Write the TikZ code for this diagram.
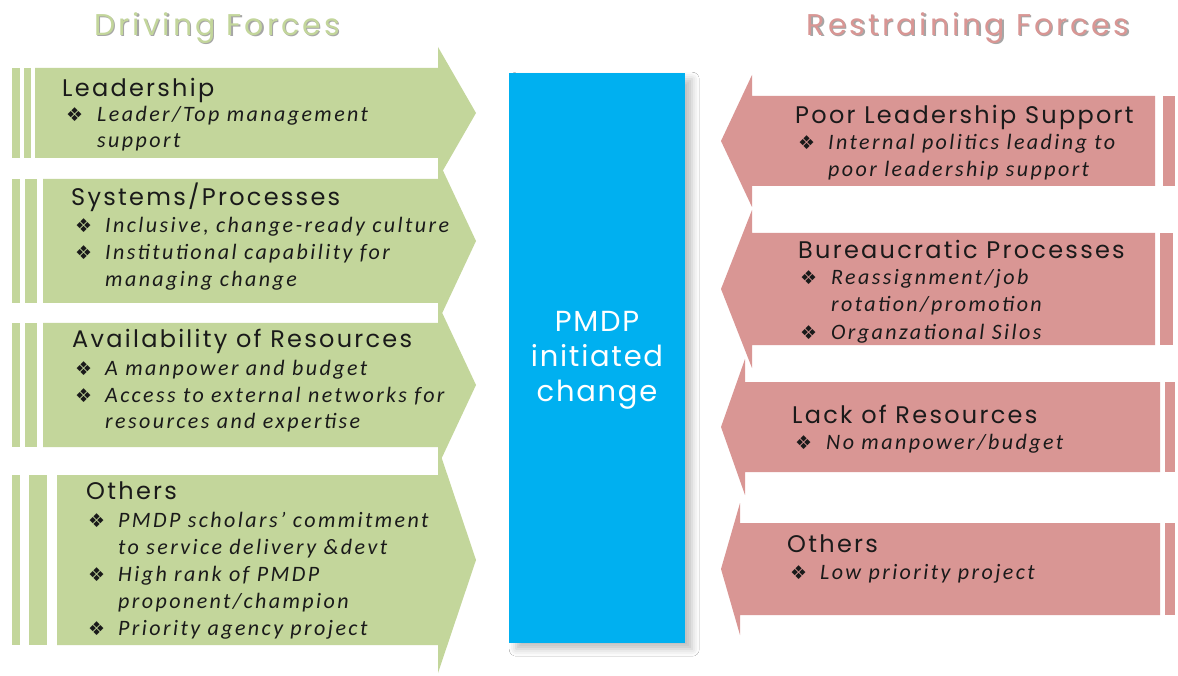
\documentclass[tikz,border=0pt]{standalone}
\usepackage{fontspec}
\setmainfont{Carlito}
\newfontfamily\gothic[LetterSpace=9.5]{Poppins}
\newfontfamily\gothicT[LetterSpace=10]{Poppins}
\newfontfamily\gothicB[LetterSpace=6]{Poppins}
\newfontfamily\symfont{DejaVu Sans}
\newfontfamily\itfont[LetterSpace=11]{Carlito}
\usetikzlibrary{shadows.blur}
\definecolor{grn}{HTML}{C3D69B}
\definecolor{grnT}{HTML}{C3D69B}
\definecolor{pnk}{HTML}{D99694}
\definecolor{blu}{HTML}{00B0F0}
\definecolor{txt}{HTML}{1A1A1A}
\tikzset{
  heading/.style={anchor=base west, inner sep=0, font=\gothic\fontsize{24}{24}\selectfont, text=txt},
  bul/.style={anchor=base west, inner sep=0, font=\symfont\fontsize{19}{19}\selectfont, text=txt},
  itm/.style={anchor=base west, inner sep=0, font=\itfont\itshape\fontsize{22}{22}\selectfont, text=txt},
  title/.style={anchor=center, inner sep=0, font=\gothicT\fontsize{30}{30}\selectfont},
  gfill/.style={fill=grn, draw=none},
  pfill/.style={fill=pnk, draw=none},
}
\begin{document}
\begin{tikzpicture}[x=1pt,y=-1pt]
\useasboundingbox (0,0) rectangle (1178,676);
\fill[white] (0,0) rectangle (1178,676);

% titles
\node[title, text=black!35] (t1s) at (218.5,29.5) {Driving Forces};
\node[title, text=grnT] (t1) at (217,28) {Driving Forces};
\node[title, text=black!35] (t2s) at (969.5,29.5) {Restraining Forces};
\node[title, text=pnk] (t2) at (968,28) {Restraining Forces};

% left arrows (driving forces)
\fill[gfill] (35,68) -- (438,68) -- (438,47) -- (476,113) -- (438,179) -- (438,158) -- (35,158) -- cycle;
\fill[gfill] (12,68) rectangle (20,158);
\fill[gfill] (24,68) rectangle (31,158);

\fill[gfill] (43,179) -- (438,179) -- (438,160) -- (476,241) -- (438,322) -- (438,303) -- (43,303) -- cycle;
\fill[gfill] (12,179) rectangle (20,303);
\fill[gfill] (25,179) rectangle (37,303);

\fill[gfill] (43,323) -- (438,323) -- (438,304) -- (476,385) -- (438,466) -- (438,447) -- (43,447) -- cycle;
\fill[gfill] (12,323) rectangle (20,447);
\fill[gfill] (25,323) rectangle (37,447);

\fill[gfill] (57,475) -- (438,475) -- (438,447) -- (476,560) -- (438,673) -- (438,645) -- (57,645) -- cycle;
\fill[gfill] (12,475) rectangle (20,645);
\fill[gfill] (29,475) rectangle (47,645);

% right arrows (restraining forces)
\fill[pfill] (1155,96) -- (752,96) -- (752,75) -- (721,141) -- (752,207) -- (752,186) -- (1155,186) -- cycle;
\fill[pfill] (1163,96) rectangle (1175,186);

\fill[pfill] (1155,233) -- (752,233) -- (752,210) -- (721,289) -- (752,368) -- (752,345) -- (1155,345) -- cycle;
\fill[pfill] (1160,233) rectangle (1173,345);

\fill[pfill] (1160,382) -- (745,382) -- (745,359) -- (721,427) -- (745,495) -- (745,472) -- (1160,472) -- cycle;
\fill[pfill] (1165,382) rectangle (1175,472);

\fill[pfill] (1160,523) -- (740,523) -- (740,503) -- (721,569) -- (740,635) -- (740,615) -- (1160,615) -- cycle;
\fill[pfill] (1165,523) rectangle (1175,615);

% central box
\node[fill=blu, draw=none, minimum width=176pt, minimum height=570pt, inner sep=0, anchor=north west,
      blur shadow={shadow xshift=7pt, shadow yshift=-6pt, shadow blur radius=7pt, shadow opacity=25}] (box) at (509,73) {};
\node[align=center, text=white, font=\gothicB\fontsize{29}{35}\selectfont, inner sep=0] (boxt) at (597,360) {PMDP\\initiated\\change};

% left texts
\node[heading] (a1h) at (62,97) {Leadership};
\node[bul] (a1b1) at (66,122) {❖};
\node[itm] (a1i1) at (97,122) {Leader/Top management};
\node[itm] (a1i1b) at (97,148) {support};

\node[heading] (a2h) at (71,206) {Systems/Processes};
\node[bul] (a2b1) at (75,233) {❖};
\node[itm] (a2i1) at (105,233) {Inclusive, change-ready culture};
\node[bul] (a2b2) at (75,260) {❖};
\node[itm] (a2i2) at (105,260) {Institutional capability for};
\node[itm] (a2i2b) at (105,287) {managing change};

\node[heading] (a3h) at (72,348) {Availability of Resources};
\node[bul] (a3b1) at (75,375) {❖};
\node[itm] (a3i1) at (105,375) {A manpower and budget};
\node[bul] (a3b2) at (75,402) {❖};
\node[itm] (a3i2) at (105,402) {Access to external networks for};
\node[itm] (a3i2b) at (105,428) {resources and expertise};

\node[heading] (a4h) at (86,499) {Others};
\node[bul] (a4b1) at (88,527) {❖};
\node[itm] (a4i1) at (118,527) {PMDP scholars’ commitment};
\node[itm] (a4i1b) at (118,554) {to service delivery \&devt};
\node[bul] (a4b2) at (88,581) {❖};
\node[itm] (a4i2) at (118,581) {High rank of PMDP};
\node[itm] (a4i2b) at (118,608) {proponent/champion};
\node[bul] (a4b3) at (88,635) {❖};
\node[itm] (a4i3) at (118,635) {Priority agency project};

% right texts
\node[heading] (r1h) at (795,124) {Poor Leadership Support};
\node[bul] (r1b1) at (798,150) {❖};
\node[itm] (r1i1) at (828,150) {Internal politics leading to};
\node[itm] (r1i1b) at (828,177) {poor leadership support};

\node[heading] (r2h) at (798,259) {Bureaucratic Processes};
\node[bul] (r2b1) at (800,285) {❖};
\node[itm] (r2i1) at (831,285) {Reassignment/job};
\node[itm] (r2i1b) at (831,312) {rotation/promotion};
\node[bul] (r2b2) at (800,339) {❖};
\node[itm] (r2i2) at (831,339) {Organzational Silos};

\node[heading] (r3h) at (792,423) {Lack of Resources};
\node[bul] (r3b1) at (795,449) {❖};
\node[itm] (r3i1) at (826,449) {No manpower/budget};

\node[heading] (r4h) at (787,552) {Others};
\node[bul] (r4b1) at (790,579) {❖};
\node[itm] (r4i1) at (820,579) {Low priority project};
\end{tikzpicture}
\end{document}
